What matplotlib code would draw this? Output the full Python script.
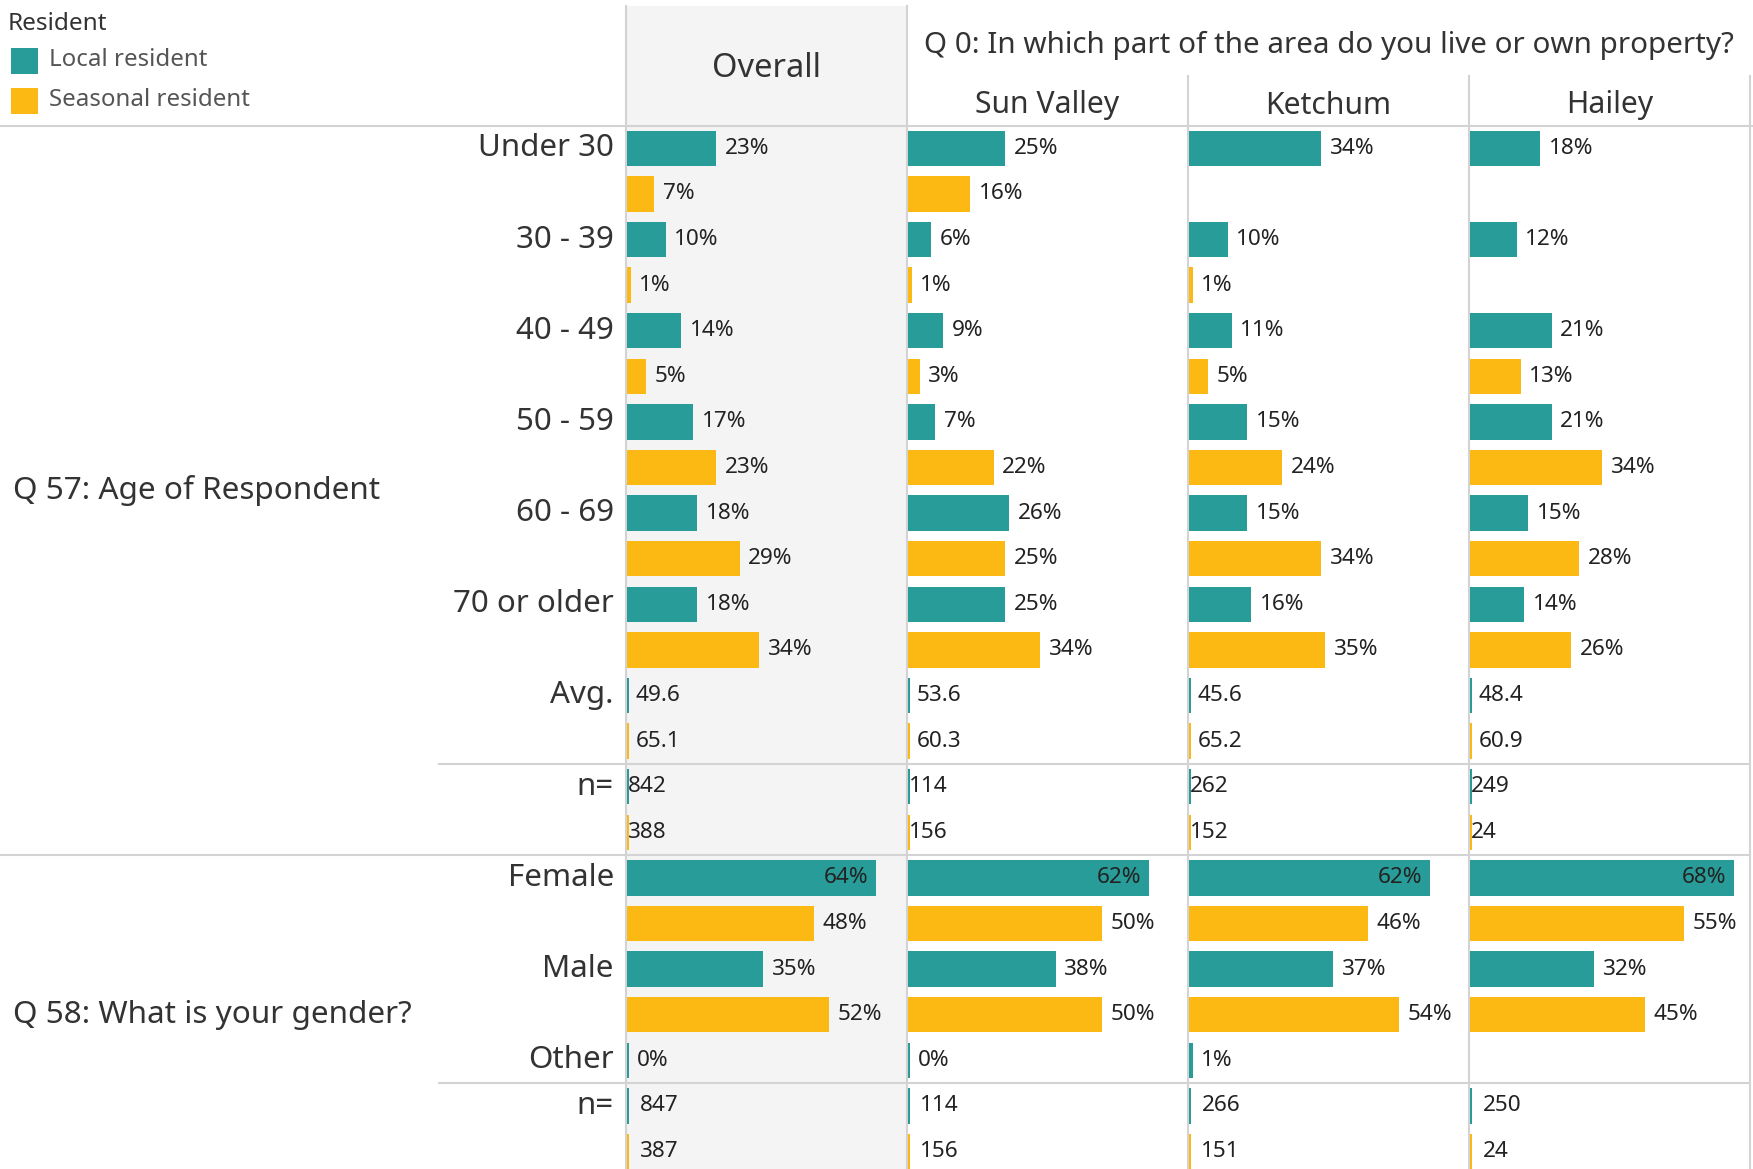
import numpy as np
import matplotlib
matplotlib.use("Agg")
import matplotlib.pyplot as plt
from matplotlib.patches import Rectangle

# Q57 / Q58 crosstab by area, local vs seasonal residents (values in %)
columns = ["Overall", "Sun Valley", "Ketchum", "Hailey"]
age_cats = ["Under 30", "30 - 39", "40 - 49", "50 - 59", "60 - 69", "70 or older"]
# one list per column, in age_cats order
age_local = [
    [23, 10, 14, 17, 18, 18],
    [25, 6, 9, 7, 26, 25],
    [34, 10, 11, 15, 15, 16],
    [18, 12, 21, 21, 15, 14],
]
age_seasonal = [
    [7, 1, 5, 23, 29, 34],
    [16, 1, 3, 22, 25, 34],
    [np.nan, 1, 5, 24, 34, 35],
    [np.nan, np.nan, 13, 34, 28, 26],
]
avg_local = [49.6, 53.6, 45.6, 48.4]
avg_seasonal = [65.1, 60.3, 65.2, 60.9]
age_n_local = [842, 114, 262, 249]
age_n_seasonal = [388, 156, 152, 24]

gender_cats = ["Female", "Male", "Other"]
gender_local = [
    [64, 35, 0],
    [62, 38, 0],
    [62, 37, 1],
    [68, 32, np.nan],
]
gender_seasonal = [
    [48, 52, np.nan],
    [50, 50, np.nan],
    [46, 54, np.nan],
    [55, 45, np.nan],
]
gender_n_local = [847, 114, 266, 250]
gender_n_seasonal = [387, 156, 151, 24]

W, H = 1753, 1169
TEAL = "#289c98"
GOLD = "#fdb913"
GRID = "#d3d3d3"
INK = "#333333"
FONT = "Noto Sans"
plt.rcParams["font.family"] = [FONT, "DejaVu Sans"]

# layout in pixels
COL_X = [626, 907, 1188, 1469, 1750]
TOP = 125.5
ROW_H = 45.6
XMAX = 72.0
LABEL_X = 614
BODY_LEFT = 439
DY = 2.5  # header / legend nudge

# rows: (label, kind, per-column values, colour)
rows = []
for k, cat in enumerate(age_cats):
    rows.append((cat, "pct", [c[k] for c in age_local], TEAL))
    rows.append((None, "pct", [c[k] for c in age_seasonal], GOLD))
rows.append(("Avg.", "avg", avg_local, TEAL))
rows.append((None, "avg", avg_seasonal, GOLD))
rows.append(("n=", "n1", age_n_local, TEAL))
rows.append((None, "n1", age_n_seasonal, GOLD))
n_age = len(rows)
for k, cat in enumerate(gender_cats):
    rows.append((cat, "pct", [c[k] for c in gender_local], TEAL))
    if not all(np.isnan(c[k]) for c in gender_seasonal):
        rows.append((None, "pct", [c[k] for c in gender_seasonal], GOLD))
rows.append(("n=", "n2", gender_n_local, TEAL))
rows.append((None, "n2", gender_n_seasonal, GOLD))
n_rows = len(rows)


def row_y(i):
    return TOP + (i + 0.5) * ROW_H


fig = plt.figure(figsize=(W / 100, H / 100), dpi=100)
bg = fig.add_axes([0, 0, 1, 1])
bg.set_xlim(0, W)
bg.set_ylim(H, 0)
bg.axis("off")

# Overall column shading
bg.add_patch(Rectangle((COL_X[0], 6), COL_X[1] - COL_X[0], H, color="#f4f4f4", lw=0, zorder=0))

# legend
bg.text(8, 22 + DY, "Resident", fontsize=17.5, fontweight="medium", color=INK, va="center", ha="left")
for j, (lab, col) in enumerate([("Local resident", TEAL), ("Seasonal resident", GOLD)]):
    y = 58 + DY + j * 40
    bg.add_patch(Rectangle((11, y - 13), 27, 26, color=col, lw=0))
    bg.text(49, y, lab, fontsize=17.3, color="#555555", va="center", ha="left")

# headers
bg.text((COL_X[0] + COL_X[1]) / 2, 66 + DY, "Overall", fontsize=23.5, color=INK,
        ha="center", va="center")
bg.text((COL_X[1] + COL_X[4]) / 2, 43 + DY, "Q 0: In which part of the area do you live or own property?",
        fontsize=21.3, color=INK, ha="center", va="center")
for c in range(1, 4):
    bg.text((COL_X[c] + COL_X[c + 1]) / 2, 103 + DY, columns[c], fontsize=21.7, color=INK,
            ha="center", va="center")

# grid lines
lw = 1.5
bg.plot([0, W], [TOP, TOP], color=GRID, lw=lw)
bg.plot([BODY_LEFT, COL_X[4]], [TOP + 14 * ROW_H] * 2, color=GRID, lw=lw)
bg.plot([0, COL_X[4]], [TOP + n_age * ROW_H] * 2, color=GRID, lw=lw)
bg.plot([BODY_LEFT, COL_X[4]], [TOP + (n_rows - 2) * ROW_H] * 2, color=GRID, lw=lw)
bg.plot([COL_X[0]] * 2, [6, H], color=GRID, lw=lw)
bg.plot([COL_X[1]] * 2, [6, H], color=GRID, lw=lw)
for x in COL_X[2:]:
    bg.plot([x, x], [76, H], color=GRID, lw=lw)

# row and group labels
for i, (lab, kind, vals, col) in enumerate(rows):
    if lab:
        bg.text(LABEL_X, row_y(i), lab, fontsize=22.5, color=INK, ha="right", va="center")
bg.text(13, TOP + n_age * ROW_H / 2, "Q 57: Age of Respondent", fontsize=22.7, color=INK,
        ha="left", va="center")
bg.text(13, TOP + (n_age + n_rows) * ROW_H / 2, "Q 58: What is your gender?", fontsize=22.7,
        color=INK, ha="left", va="center")

# bars, one axes per column
body_h = n_rows * ROW_H
pads = {"avg": 2.3, "n1": 0.3, "n2": 3.2}
VAL_FS = 16.2
for c in range(4):
    x0, x1 = COL_X[c] + 1, COL_X[c + 1]
    ax = fig.add_axes([x0 / W, 1 - (TOP + body_h) / H, (x1 - x0) / W, body_h / H])
    ax.set_xlim(0, XMAX)
    ax.set_ylim(n_rows - 0.5, -0.5)
    ax.axis("off")
    ax.patch.set_alpha(0)
    for i, (lab, kind, vals, col) in enumerate(rows):
        v = vals[c]
        if v is None or (isinstance(v, float) and np.isnan(v)):
            continue
        if kind == "pct":
            ax.barh(i, max(v, 0.45), height=0.78, color=col, lw=0)
            txt = f"{v:.0f}%"
            if v > 58:
                ax.text(v - 2.0, i, txt, fontsize=VAL_FS, color="#222222", ha="right", va="center")
            else:
                ax.text(max(v, 0.45) + 2.2, i, txt, fontsize=VAL_FS, color="#222222",
                        ha="left", va="center")
        else:
            ax.barh(i, 0.45, height=0.78, color=col, lw=0)
            txt = f"{v:.1f}" if kind == "avg" else f"{v:d}"
            ax.text(pads[kind], i, txt, fontsize=VAL_FS, color="#222222", ha="left", va="center")

fig.savefig("out.png", dpi=100)
